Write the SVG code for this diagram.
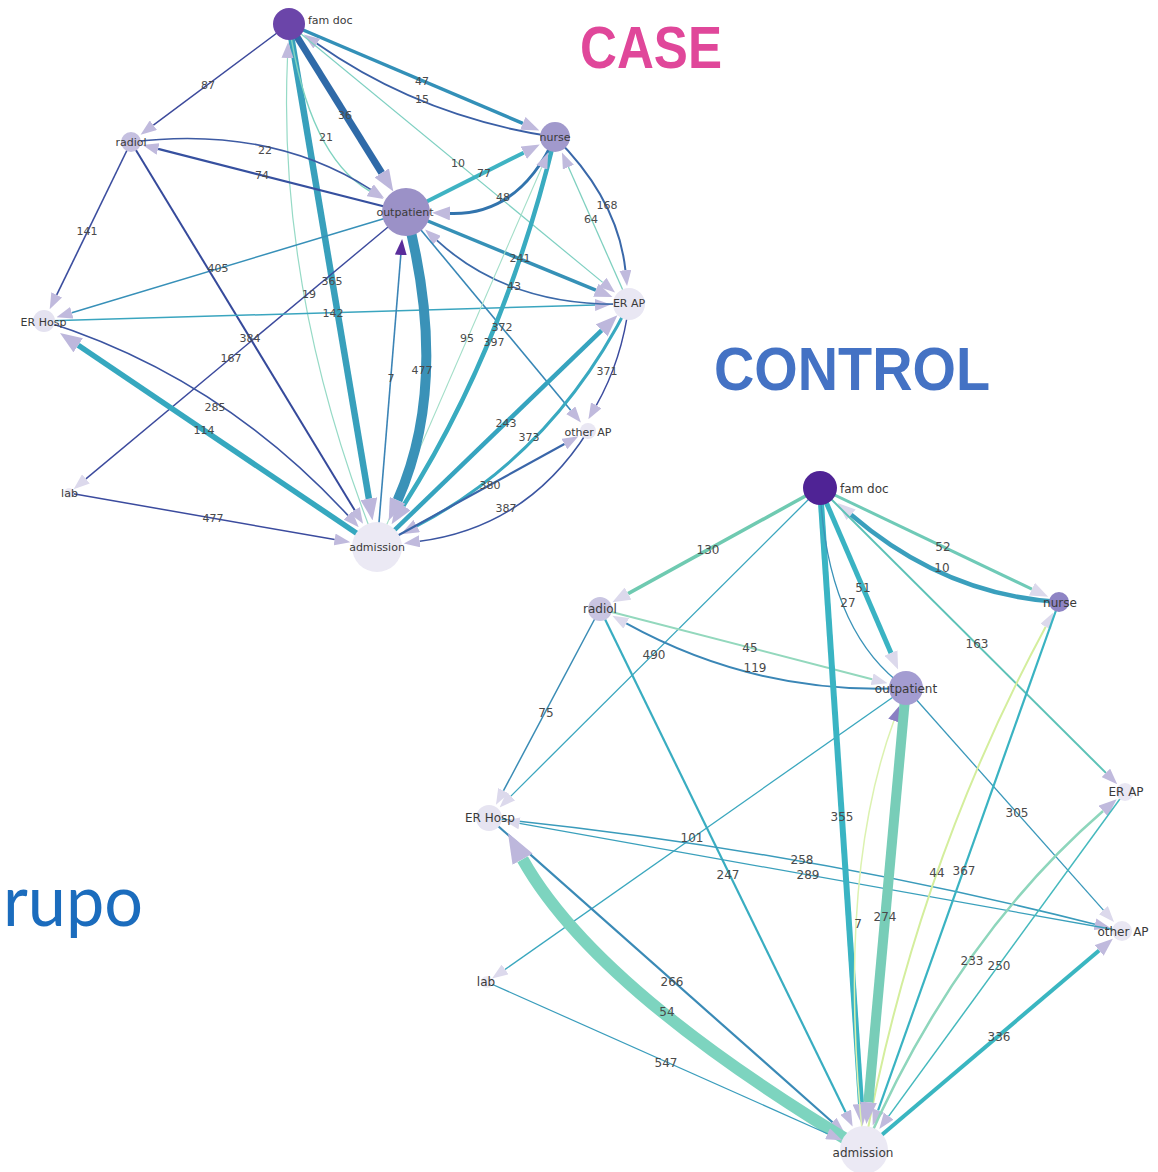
<svg xmlns="http://www.w3.org/2000/svg" width="1158" height="1172" viewBox="0 0 1158 1172">
  <style>
    .e { fill: none; stroke-linecap: butt; }
    .nl { font-family: "DejaVu Sans", "Liberation Sans", sans-serif; font-size: 11px; fill: #3a3a3a; text-anchor: middle; }
    .nl2 { font-family: "DejaVu Sans", "Liberation Sans", sans-serif; font-size: 12px; fill: #3a3a3a; text-anchor: middle; }
    .el { font-family: "DejaVu Sans", "Liberation Sans", sans-serif; font-size: 11px; fill: #4a4a4a; text-anchor: middle; }
    .el2 { font-family: "DejaVu Sans", "Liberation Sans", sans-serif; font-size: 12px; fill: #4a4a4a; text-anchor: middle; }
    .title { font-family: "Liberation Sans", Arial, sans-serif; font-weight: bold; }
  </style>
  <defs>
    <!-- arrowheads: base sits on the path end, tip points forward -->
    <marker id="aS" markerUnits="userSpaceOnUse" markerWidth="16" markerHeight="12" viewBox="0 0 16 12" refX="0" refY="6" orient="auto"><path d="M0,0 L16,6 L0,12 z" fill="#c0badd"/></marker>
    <marker id="aM" markerUnits="userSpaceOnUse" markerWidth="18" markerHeight="14" viewBox="0 0 18 14" refX="0" refY="7" orient="auto"><path d="M0,0 L18,7 L0,14 z" fill="#c0badd"/></marker>
    <marker id="aL" markerUnits="userSpaceOnUse" markerWidth="22" markerHeight="17" viewBox="0 0 22 17" refX="0" refY="8.5" orient="auto"><path d="M0,0 L22,8.5 L0,17 z" fill="#bdb7dc"/></marker>
    <marker id="aXL" markerUnits="userSpaceOnUse" markerWidth="30" markerHeight="23" viewBox="0 0 30 23" refX="0" refY="11.5" orient="auto"><path d="M0,0 L30,11.5 L0,23 z" fill="#bdb7dc"/></marker>
    <marker id="pS" markerUnits="userSpaceOnUse" markerWidth="16" markerHeight="12" viewBox="0 0 16 12" refX="0" refY="6" orient="auto"><path d="M0,0 L16,6 L0,12 z" fill="#dcd9ec"/></marker>
    <marker id="pM" markerUnits="userSpaceOnUse" markerWidth="18" markerHeight="14" viewBox="0 0 18 14" refX="0" refY="7" orient="auto"><path d="M0,0 L18,7 L0,14 z" fill="#dcd9ec"/></marker>
    <marker id="dP" markerUnits="userSpaceOnUse" markerWidth="16" markerHeight="12" viewBox="0 0 16 12" refX="0" refY="6" orient="auto"><path d="M0,0 L16,6 L0,12 z" fill="#5a2d9b"/></marker>
    <marker id="mP" markerUnits="userSpaceOnUse" markerWidth="16" markerHeight="12" viewBox="0 0 16 12" refX="0" refY="6" orient="auto"><path d="M0,0 L16,6 L0,12 z" fill="#8a7fc3"/></marker>
  </defs>

  <rect width="1158" height="1172" fill="#ffffff"/>

  <!-- headings -->
  <text class="title" x="580" y="68" font-size="60" fill="#e0479a" textLength="142" lengthAdjust="spacingAndGlyphs">CASE</text>
  <text class="title" x="714" y="390" font-size="62" fill="#4472c4" textLength="276" lengthAdjust="spacingAndGlyphs">CONTROL</text>
  <text x="3" y="926" font-family="Lato, 'Open Sans', sans-serif" font-size="72" fill="#1b6cbd" textLength="140" lengthAdjust="spacingAndGlyphs">rupo</text>

  <!-- ===== case network: connectors ===== -->
  <g id="case-connectors" class="e">
    <path d="M289,24 L153.4,125.2" stroke="#3d4a9c" stroke-width="1.5" marker-end="url(#aS)"/>
    <path d="M289,24 L381.7,172.9" stroke="#2f6aa8" stroke-width="7" marker-end="url(#aL)"/>
    <path d="M289,24 L522.8,123.4" stroke="#3390b8" stroke-width="3.5" marker-end="url(#aM)"/>
    <path d="M555,137 Q422,117.5 316.8,43.6" stroke="#3a5fa5" stroke-width="1.8" marker-end="url(#aS)"/>
    <path d="M289,24 L368.9,498.7" stroke="#38a0bc" stroke-width="6.5" marker-end="url(#aL)"/>
    <path d="M289,24 Q308.5,156 369.6,191" stroke="#7fd3c0" stroke-width="1.5" marker-end="url(#aS)"/>
    <path d="M377,547 Q277,294.5 287.5,58" stroke="#96dac6" stroke-width="1.2" marker-end="url(#aS)"/>
    <path d="M289,24 L602.7,282.4" stroke="#7fd0c2" stroke-width="1.2" marker-end="url(#aS)"/>
    <path d="M131,142 Q270,125 370.6,189.4" stroke="#3d5aa3" stroke-width="1.6" marker-end="url(#aS)"/>
    <path d="M406,212 L158.1,148.9" stroke="#36509f" stroke-width="2.2" marker-end="url(#aS)"/>
    <path d="M131,142 L56.7,294.9" stroke="#3c4e9f" stroke-width="1.6" marker-end="url(#aS)"/>
    <path d="M406,212 L71.8,312.7" stroke="#3790b8" stroke-width="1.5" marker-end="url(#aS)"/>
    <path d="M131,142 L354.7,510.2" stroke="#364a9b" stroke-width="2" marker-end="url(#aS)"/>
    <path d="M406,212 L85.9,478.9" stroke="#3c4a9d" stroke-width="1.4" marker-end="url(#pS)"/>
    <path d="M43,321 L595,305" stroke="#3aa5bf" stroke-width="1.5" marker-end="url(#aS)"/>
    <path d="M44,321 Q219.5,376 347.9,515.4" stroke="#3b54a1" stroke-width="1.6" marker-end="url(#aS)"/>
    <path d="M377,547 L78.2,345.3" stroke="#36a8bf" stroke-width="5.5" marker-end="url(#aL)"/>
    <path d="M69,493 L334.6,539.5" stroke="#3b4b9e" stroke-width="1.5" marker-end="url(#aS)"/>
    <path d="M406,212 L523.7,152.7" stroke="#3fb3c3" stroke-width="4" marker-end="url(#aM)"/>
    <path d="M555,137 Q519.5,215.5 450,213.4" stroke="#3274ad" stroke-width="3" marker-end="url(#aM)"/>
    <path d="M555,137 Q618,199.5 625.4,270.2" stroke="#3a68a9" stroke-width="2" marker-end="url(#aS)"/>
    <path d="M629,304 L568.4,167.1" stroke="#7fd0c0" stroke-width="1.3" marker-end="url(#aS)"/>
    <path d="M406,212 L595.8,290.2" stroke="#3691b7" stroke-width="3.5" marker-end="url(#aM)"/>
    <path d="M629,304 Q510.5,308 436.9,240.4" stroke="#3b69a9" stroke-width="1.8" marker-end="url(#aS)"/>
    <path d="M406,212 L570.7,410.2" stroke="#3887b6" stroke-width="1.6" marker-end="url(#aS)"/>
    <path d="M555,137 Q504,348 403.4,505.7" stroke="#39abc0" stroke-width="4.5" marker-end="url(#aL)"/>
    <path d="M377,547 L541.8,167.3" stroke="#a3dec8" stroke-width="1.1" marker-end="url(#aS)"/>
    <path d="M377,547 L400.8,255" stroke="#3b84b6" stroke-width="1.6" marker-end="url(#dP)"/>
    <path d="M406,212 Q450.5,380.5 397.6,500.3" stroke="#3a92b8" stroke-width="10" marker-end="url(#aL)"/>
    <path d="M377,547 L601.6,330.4" stroke="#36a4bf" stroke-width="4.5" marker-end="url(#aL)"/>
    <path d="M629,304 Q553,454.5 416.8,526" stroke="#39a9c0" stroke-width="3" marker-end="url(#aM)"/>
    <path d="M629,304 Q622,360 596.3,405.3" stroke="#3b4b9e" stroke-width="1.5" marker-end="url(#aS)"/>
    <path d="M377,547 L564.4,444" stroke="#3a66a9" stroke-width="2.2" marker-end="url(#aS)"/>
    <path d="M588,431 Q527.5,527 419.7,541.3" stroke="#3b55a1" stroke-width="1.5" marker-end="url(#aS)"/>
  </g>

  <!-- case network: connector weights -->
  <g id="case-connector-labels">
    <text class="el" x="208" y="89">87</text>
    <text class="el" x="265" y="154">22</text>
    <text class="el" x="262" y="179">74</text>
    <text class="el" x="87" y="235">141</text>
    <text class="el" x="218" y="272">405</text>
    <text class="el" x="326" y="141">21</text>
    <text class="el" x="345" y="119">36</text>
    <text class="el" x="422" y="85">47</text>
    <text class="el" x="422" y="103">15</text>
    <text class="el" x="458" y="167">10</text>
    <text class="el" x="484" y="177">77</text>
    <text class="el" x="503" y="201">48</text>
    <text class="el" x="607" y="209">168</text>
    <text class="el" x="591" y="223">64</text>
    <text class="el" x="520" y="262">241</text>
    <text class="el" x="514" y="290">43</text>
    <text class="el" x="332" y="285">365</text>
    <text class="el" x="309" y="298">19</text>
    <text class="el" x="333" y="317">142</text>
    <text class="el" x="250" y="342">384</text>
    <text class="el" x="231" y="362">167</text>
    <text class="el" x="502" y="331">372</text>
    <text class="el" x="467" y="342">95</text>
    <text class="el" x="494" y="346">397</text>
    <text class="el" x="391" y="382">7</text>
    <text class="el" x="422" y="374">477</text>
    <text class="el" x="607" y="375">371</text>
    <text class="el" x="506" y="427">243</text>
    <text class="el" x="529" y="441">373</text>
    <text class="el" x="490" y="489">380</text>
    <text class="el" x="506" y="512">387</text>
    <text class="el" x="215" y="411">285</text>
    <text class="el" x="204" y="434">114</text>
    <text class="el" x="213" y="522">477</text>
  </g>

  <!-- case network: nodes -->
  <g id="case-famdoc"><circle cx="289" cy="24" r="16" fill="#6b45a9"/><text class="nl" x="308" y="24" style="text-anchor:start">fam doc</text></g>
  <g id="case-radiol"><circle cx="131" cy="142" r="10" fill="#c5c0e0"/><text class="nl" x="131" y="146">radiol</text></g>
  <g id="case-nurse"><circle cx="555" cy="137" r="15" fill="#a199cc"/><text class="nl" x="555" y="141">nurse</text></g>
  <g id="case-outpatient"><circle cx="406" cy="212" r="24" fill="#9b91c7"/><text class="nl" x="405" y="216">outpatient</text></g>
  <g id="case-erhosp"><circle cx="44" cy="321" r="11" fill="#e4e2f0"/><text class="nl" x="43.5" y="326">ER Hosp</text></g>
  <g id="case-erap"><circle cx="629" cy="304" r="16" fill="#e9e7f3"/><text class="nl" x="629" y="307">ER AP</text></g>
  <g id="case-otherap"><circle cx="588" cy="431" r="8" fill="#e9e7f3"/><text class="nl" x="588" y="436">other AP</text></g>
  <g id="case-lab"><circle cx="69" cy="493" r="5" fill="#eceaf4"/><text class="nl" x="69.5" y="497">lab</text></g>
  <g id="case-admission"><circle cx="377" cy="547" r="25" fill="#ebe9f4"/><text class="nl" x="377" y="551">admission</text></g>

  <!-- ===== control network: connectors ===== -->
  <g id="control-connectors" class="e">
    <path d="M820,488 L628.1,593.6" stroke="#6fcab1" stroke-width="3.5" marker-end="url(#pM)"/>
    <path d="M820,488 L510.9,796.1" stroke="#3aa6be" stroke-width="1.3" marker-end="url(#pS)"/>
    <path d="M600,609 L503.5,790.7" stroke="#3a8cb5" stroke-width="1.5" marker-end="url(#pS)"/>
    <path d="M600,609 L845.6,1112.2" stroke="#39adc1" stroke-width="2.2" marker-end="url(#aS)"/>
    <path d="M600,609 L872.1,679.2" stroke="#93d8bd" stroke-width="2" marker-end="url(#pS)"/>
    <path d="M906,688 Q757,695.5 626.3,623.4" stroke="#3a86b6" stroke-width="2" marker-end="url(#pS)"/>
    <path d="M906,688 L505.1,969.4" stroke="#3aa7be" stroke-width="1.3" marker-end="url(#pS)"/>
    <path d="M489,818 Q798.5,849.5 1094.9,924.2" stroke="#3a9bbb" stroke-width="1.5" marker-end="url(#aS)"/>
    <path d="M1122,931 L519.5,823.4" stroke="#3aa0bc" stroke-width="1.3" marker-end="url(#pS)"/>
    <path d="M489,818 L832.5,1122.2" stroke="#3a8ab6" stroke-width="2.2" marker-end="url(#aS)"/>
    <path d="M864,1150 Q595.7,990 522.6,859.2" stroke="#7dd4bf" stroke-width="12" marker-end="url(#aXL)"/>
    <path d="M487,982 L827.5,1133.7" stroke="#3a9dbc" stroke-width="1.2" marker-end="url(#aS)"/>
    <path d="M820,488 L861,1104" stroke="#3ab4c3" stroke-width="6" marker-end="url(#aL)"/>
    <path d="M820,488 Q827,632 906,688" stroke="#3a93b8" stroke-width="1.3"/>
    <path d="M820,488 L891,653" stroke="#3ab3c3" stroke-width="5" marker-end="url(#pM)"/>
    <path d="M820,488 L1031.9,589.1" stroke="#6fcab7" stroke-width="3" marker-end="url(#pM)"/>
    <path d="M1059,602 Q944.5,595 851.1,514.7" stroke="#3a9fbd" stroke-width="4.5" marker-end="url(#pM)"/>
    <path d="M820,488 L1105.9,772.9" stroke="#5dc2b7" stroke-width="2" marker-end="url(#aS)"/>
    <path d="M906,688 L1103.4,910.1" stroke="#3a98ba" stroke-width="1.3" marker-end="url(#pS)"/>
    <path d="M864,1150 Q914.5,870 1045.7,626.7" stroke="#d4ee9d" stroke-width="2" marker-end="url(#pS)"/>
    <path d="M1059,602 L878.1,1110.4" stroke="#3ab3c2" stroke-width="2.2" marker-end="url(#aS)"/>
    <path d="M864,1150 Q835,881 893.9,720.8" stroke="#dcf2b0" stroke-width="1.5" marker-end="url(#mP)"/>
    <path d="M906,688 L868.4,1102.2" stroke="#78cdb8" stroke-width="10" marker-end="url(#aL)"/>
    <path d="M864,1150 Q955.5,939 1103.1,811" stroke="#8ed6bc" stroke-width="2.5" marker-end="url(#aM)"/>
    <path d="M1125,792 L888.7,1116.1" stroke="#45b9bd" stroke-width="1.5" marker-end="url(#aS)"/>
    <path d="M864,1150 L1099.1,950.4" stroke="#3ab6c1" stroke-width="4" marker-end="url(#aM)"/>
  </g>

  <!-- control network: connector weights -->
  <g id="control-connector-labels">
    <text class="el2" x="708" y="554">130</text>
    <text class="el2" x="654" y="659">490</text>
    <text class="el2" x="546" y="717">75</text>
    <text class="el2" x="750" y="652">45</text>
    <text class="el2" x="755" y="672">119</text>
    <text class="el2" x="692" y="842">101</text>
    <text class="el2" x="943" y="551">52</text>
    <text class="el2" x="942" y="572">10</text>
    <text class="el2" x="863" y="592">51</text>
    <text class="el2" x="848" y="607">27</text>
    <text class="el2" x="977" y="648">163</text>
    <text class="el2" x="842" y="821">355</text>
    <text class="el2" x="1017" y="817">305</text>
    <text class="el2" x="937" y="877">44</text>
    <text class="el2" x="964" y="875">367</text>
    <text class="el2" x="858" y="928">7</text>
    <text class="el2" x="885" y="921">274</text>
    <text class="el2" x="728" y="879">247</text>
    <text class="el2" x="802" y="864">258</text>
    <text class="el2" x="808" y="879">289</text>
    <text class="el2" x="672" y="986">266</text>
    <text class="el2" x="667" y="1016">54</text>
    <text class="el2" x="666" y="1067">547</text>
    <text class="el2" x="972" y="965">233</text>
    <text class="el2" x="999" y="970">250</text>
    <text class="el2" x="999" y="1041">336</text>
  </g>

  <!-- control network: nodes -->
  <g id="control-famdoc"><circle cx="820" cy="488" r="17" fill="#4f2395"/><text class="nl2" x="840" y="493" style="text-anchor:start">fam doc</text></g>
  <g id="control-radiol"><circle cx="600" cy="609" r="12" fill="#c9c5e2"/><text class="nl2" x="600" y="613">radiol</text></g>
  <g id="control-nurse"><circle cx="1059" cy="602" r="10" fill="#8e84c4"/><text class="nl2" x="1060" y="607">nurse</text></g>
  <g id="control-outpatient"><circle cx="906" cy="688" r="17" fill="#a39cd1"/><text class="nl2" x="906" y="693">outpatient</text></g>
  <g id="control-erhosp"><circle cx="489" cy="818" r="13" fill="#e6e4f1"/><text class="nl2" x="490" y="822">ER Hosp</text></g>
  <g id="control-erap"><circle cx="1125" cy="792" r="9" fill="#e9e7f3"/><text class="nl2" x="1126" y="796">ER AP</text></g>
  <g id="control-otherap"><circle cx="1122" cy="931" r="10" fill="#e9e7f3"/><text class="nl2" x="1123" y="936">other AP</text></g>
  <g id="control-lab"><circle cx="487" cy="982" r="6" fill="#eceaf4"/><text class="nl2" x="486" y="986">lab</text></g>
  <g id="control-admission"><circle cx="864" cy="1150" r="24" fill="#ebe9f4"/><text class="nl2" x="863" y="1157">admission</text></g>
</svg>
